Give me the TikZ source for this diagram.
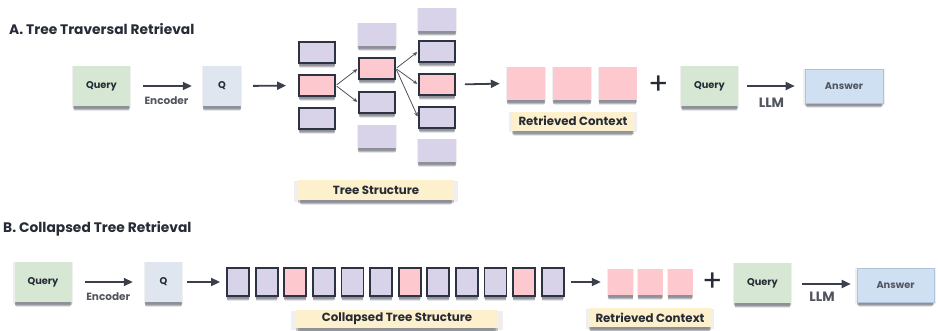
\documentclass[tikz,border=0pt]{standalone}
\usepackage{fontspec}
\setmainfont{Poppins}
\usetikzlibrary{arrows.meta,shadows}
\definecolor{lav}{HTML}{D9D3E9}
\definecolor{pnk}{HTML}{FEC8CF}
\definecolor{grn}{HTML}{D6E8D3}
\definecolor{qcol}{HTML}{E0E6EF}
\definecolor{ans}{HTML}{CFE0F2}
\definecolor{ansb}{HTML}{AFC2DA}
\definecolor{ylw}{HTML}{FDF0CC}
\definecolor{dark}{HTML}{2D3341}
\definecolor{txt}{HTML}{262B36}
\definecolor{arr}{HTML}{3A3F4B}
\tikzset{
  x=1pt, y=-1pt,
  softshadow/.style={
    general shadow={shadow yshift=-6pt, shadow scale=.96, fill=dark, opacity=.12},
    general shadow={shadow yshift=-4.5pt, shadow scale=.98, fill=dark, opacity=.25},
    general shadow={shadow yshift=-3pt, fill=dark, opacity=.25},
    general shadow={shadow yshift=-1pt, shadow scale=1.05, fill=dark, opacity=.08}},
  box/.style={rectangle, inner sep=0pt, softshadow, text=txt, font=\fontsize{9.8}{11}\selectfont\bfseries},
  qry/.style={box, fill=grn, minimum width=57pt, minimum height=40pt},
  qq/.style={box, fill=qcol, minimum width=38pt, minimum height=40pt},
  ansbox/.style={box, fill=ans, draw=ansb, line width=0.6pt, text=txt!80, minimum width=78pt, minimum height=34pt},
  tb/.style={box, draw=dark, line width=1.8pt, minimum width=36pt, minimum height=21pt},
  tbl/.style={tb, fill=lav},
  tbp/.style={tb, fill=pnk},
  tbn/.style={box, fill=lav, minimum width=38pt, minimum height=23pt},
  cb/.style={box, draw=dark, line width=1.8pt, minimum width=22pt, minimum height=28pt},
  cbl/.style={cb, fill=lav},
  cbp/.style={cb, fill=pnk},
  ctxa/.style={box, fill=pnk, minimum width=38pt, minimum height=33pt},
  ctxb/.style={box, fill=pnk, minimum width=25pt, minimum height=26pt},
  lbl/.style={box, fill=ylw, font=\fontsize{11.8}{13}\selectfont\bfseries, minimum height=19pt},
  flow/.style={draw=arr, line width=1.8pt, -{Triangle[length=9pt,width=8pt]}},
  thinarr/.style={draw=arr!90, line width=0.8pt, -{Stealth[length=4.5pt,width=4pt]}},
  captxt/.style={text=txt!80, font=\fontsize{10.5}{12}\selectfont\bfseries, inner sep=0pt},
  llm/.style={text=txt!80, font=\fontsize{13.5}{15}\selectfont\bfseries, inner sep=0pt},
  ttl/.style={text=txt, font=\fontsize{13.8}{16}\selectfont\bfseries, inner sep=0pt, anchor=west},
  plus/.style={text=txt, font=\fontsize{30}{30}\selectfont, inner sep=0pt}
}
\begin{document}
\begin{tikzpicture}
\useasboundingbox (0,0) rectangle (938,330);
% ---------- A ----------
\node[ttl] (tA) at (9,29) {A.\ Tree Traversal Retrieval};
\node[qry] (qA) at (101.5,86) {Query};
\node[qq] (QA) at (222,86) {Q};
\draw[flow, shorten <=13pt, shorten >=11pt] (qA) -- node[captxt, below=10pt] (encA) {Encoder} (QA);
% tree columns
\node[tbl] (c1a) at (317,52.5) {};
\node[tbp] (c1b) at (317,85.5) {};
\node[tbl] (c1c) at (317,118.5) {};
\node[tbn] (c2a) at (377,34.5) {};
\node[tbp] (c2b) at (377,68.5) {};
\node[tbl] (c2c) at (377,102.5) {};
\node[tbn] (c2d) at (377,136.5) {};
\node[tbn] (c3a) at (437,19.5) {};
\node[tbl] (c3b) at (437,51.5) {};
\node[tbp] (c3c) at (437,84.5) {};
\node[tbl] (c3d) at (437,117.5) {};
\node[tbn] (c3e) at (437,150.5) {};
\draw[flow, shorten <=12pt, shorten >=12pt] (QA.east) -- (c1b.west);
\draw[thinarr, shorten <=1pt, shorten >=1pt] (c1b.east) -- (c2b.west);
\draw[thinarr, shorten <=1pt, shorten >=1pt] (c1b.east) -- (c2c.west);
\draw[thinarr, shorten <=1pt, shorten >=1pt] (c2b.east) -- (c3b.west);
\draw[thinarr, shorten <=1pt, shorten >=1pt] (c2b.east) -- (c3c.west);
\draw[thinarr, shorten <=1pt, shorten >=1pt] (c2b.east) -- (c3d.west);
\node[lbl, minimum width=156pt, minimum height=20pt] (tsA) at (376,190) {Tree Structure};
\node[ctxa] (r1) at (526,83.5) {};
\node[ctxa] (r2) at (572,83.5) {};
\node[ctxa] (r3) at (617.5,83.5) {};
\draw[flow, shorten <=9pt, shorten >=7pt] (c3c.east) -- (r1.west);
\node[lbl, minimum width=122pt] (rcA) at (573,121) {Retrieved Context};
\node[plus] (pA) at (659,85) {+};
\node[qry] (q2A) at (709.5,86) {Query};
\node[ansbox] (aA) at (844,86) {Answer};
\draw[flow, shorten <=9pt, shorten >=10pt] (q2A) -- node[llm, below=11pt] (llmA) {LLM} (aA);
% ---------- B ----------
\node[ttl] (tB) at (3,229) {B.\ Collapsed Tree Retrieval};
\node[qry] (qB) at (43,282) {Query};
\node[qq, minimum width=37pt] (QB) at (163.5,282) {Q};
\draw[flow, shorten <=13pt, shorten >=12pt] (qB) -- node[captxt, below=10pt] (encB) {Encoder} (QB);
\node[cbl] (b0) at (238.0,282) {};
\node[cbl] (b1) at (266.6,282) {};
\node[cbp] (b2) at (295.2,282) {};
\node[cbl] (b3) at (323.8,282) {};
\node[cbl] (b4) at (352.4,282) {};
\node[cbl] (b5) at (381.0,282) {};
\node[cbp] (b6) at (409.6,282) {};
\node[cbl] (b7) at (438.2,282) {};
\node[cbl] (b8) at (466.8,282) {};
\node[cbl] (b9) at (495.4,282) {};
\node[cbp] (b10) at (524.0,282) {};
\node[cbl] (b11) at (552.6,282) {};
\draw[flow, shorten <=5pt, shorten >=6pt] (QB.east) -- (b0.west);
\node[lbl, minimum width=202pt, minimum height=18pt] (tsB) at (397,319) {Collapsed Tree Structure};
\node[ctxb] (s1) at (620.5,282) {};
\node[ctxb] (s2) at (650,282) {};
\node[ctxb] (s3) at (680,282) {};
\draw[flow, shorten <=6pt, shorten >=7pt] (b11.east) -- (s1.west);
\node[lbl, minimum width=122pt] (rcB) at (650,317.5) {Retrieved Context};
\node[plus] (pB) at (713,282) {+};
\node[qry] (q2B) at (762.5,283) {Query};
\node[ansbox, minimum width=77pt] (aB) at (895.5,285) {Answer};
\coordinate (llmEnd) at (aB.west |- 0,284);
\draw[flow, shorten <=11pt, shorten >=6pt] (q2B.east |- llmEnd) -- (llmEnd);
\node[llm] (llmB) at (822,297) {LLM};
\end{tikzpicture}
\end{document}
